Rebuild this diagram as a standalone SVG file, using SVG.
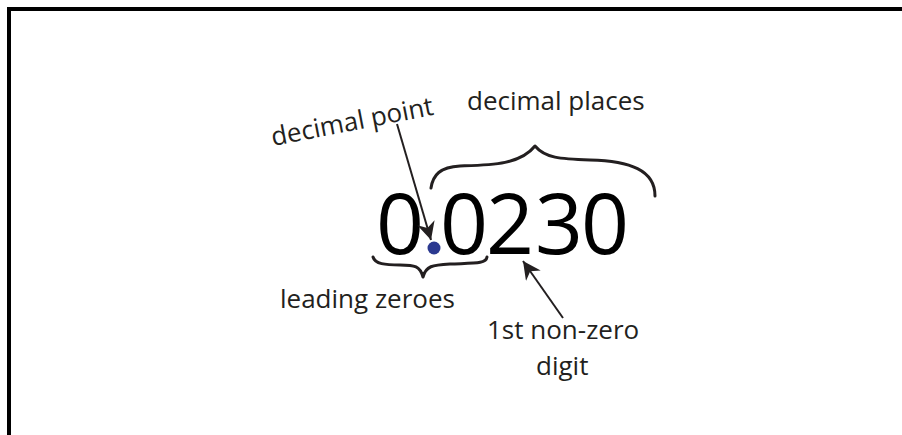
<svg xmlns="http://www.w3.org/2000/svg" width="902" height="435" viewBox="0 0 902 435">
<style>
.lbl{font-family:"Open Sans","Liberation Sans",sans-serif;font-size:26px;font-weight:500;fill:#231f20}
.num{font-family:"Open Sans","Liberation Sans",sans-serif;font-size:84px;fill:#000}
.brace{fill:none;stroke:#231f20;stroke-width:3;stroke-linecap:round;stroke-linejoin:round}
.arr{stroke:#231f20;stroke-width:2}
</style>
<defs>
<marker id="ah2" viewBox="0 0 10 10" refX="10" refY="5" markerWidth="18" markerHeight="18" markerUnits="userSpaceOnUse" orient="auto">
<path d="M0,0 L10,5 L0,10 L3,5 Z" fill="#231f20"/>
</marker>
</defs>
<rect width="902" height="435" fill="#fff"/>
<path d="M9,435 V9 H902" fill="none" stroke="#000" stroke-width="4"/>
<g id="number">
<text class="num" x="376" y="254">0</text>
<circle cx="434" cy="248" r="6.5" fill="#2b3990"/>
<text class="num" x="440" y="254">0</text>
<text class="num" x="486" y="254">2</text>
<text class="num" x="535" y="254">3</text>
<text class="num" x="581" y="254">0</text>
</g>
<g id="decimal-places">
<text class="lbl" x="467" y="110">decimal places</text>
<path class="brace" d="M431,188 C433,175 440,167 460,166 C490,165 520,165 535,146 C545,158 560,159 590,160 C630,161 655,170 655,196"/>
</g>
<g id="decimal-point">
<text class="lbl" transform="translate(273,146) rotate(-11)">decimal point</text>
</g>
<g id="leading-zeroes">
<path class="brace" d="M373,257 C375,264 385,265 400,265 C415,265 420,266 423,277 C426,266 432,265 450,264 C475,263 486,264 487,257"/>
<text class="lbl" x="280" y="308">leading zeroes</text>
</g>
<g id="first-nonzero">
<text class="lbl" x="487" y="339">1st non-zero</text>
<text class="lbl" x="536" y="375">digit</text>
</g>
<g id="connectors">
<line class="arr" x1="397" y1="124" x2="431" y2="240" marker-end="url(#ah2)"/>
<line class="arr" x1="563" y1="318" x2="523" y2="261" marker-end="url(#ah2)"/>
</g>
</svg>
